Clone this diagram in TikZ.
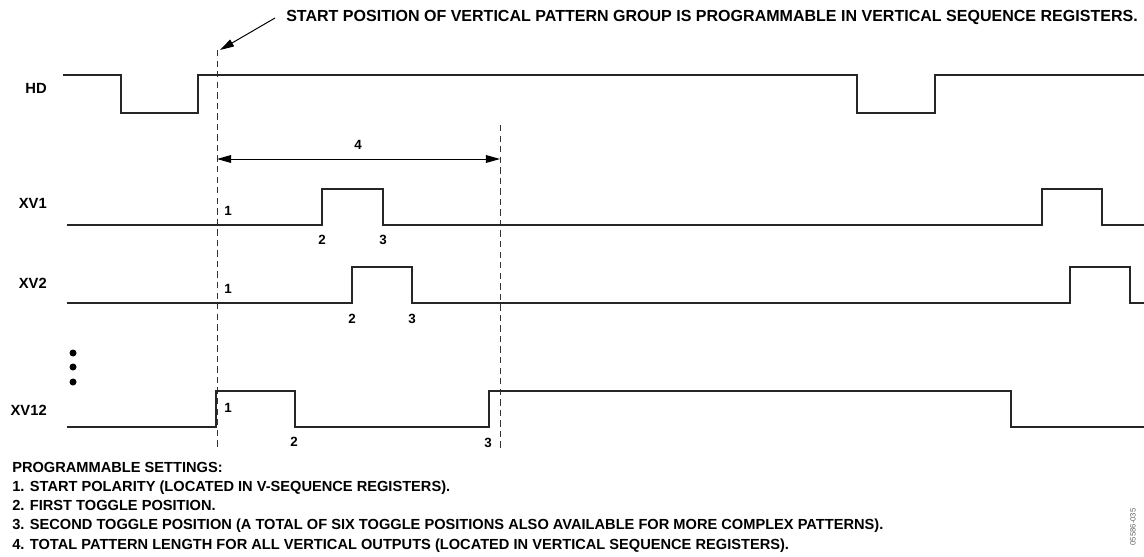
\documentclass[tikz,border=0pt]{standalone}
\usepackage{fontspec}
\setmainfont{Liberation Sans}
\usetikzlibrary{arrows.meta, positioning}

\begin{document}
\begin{tikzpicture}[
    x=0.025cm, y=-0.025cm,
    signal/.style={line width=1.4pt, draw=black!85},
    guide/.style={line width=0.6pt, dash pattern=on 4.5pt off 3pt, draw=black!80},
    arrow/.style={-{Triangle[length=10pt, width=5.5pt]}, line width=0.7pt},
    label/.style={font=\bfseries\fontsize{10.5}{12}\selectfont, inner sep=0pt, anchor=east},
    tick/.style={font=\bfseries\fontsize{9.5}{11}\selectfont, inner sep=0pt},
    note/.style={font=\bfseries\fontsize{10.4}{12}\selectfont, inner sep=0pt, anchor=base west}
]
\useasboundingbox (0,0) rectangle (1144,557);

% Start marker and pattern length guides
\draw[guide] (217,50) -- (217,450);
\draw[guide] (500,125) -- (500,450);
\node[font=\bfseries\fontsize{11.4}{13}\selectfont, inner sep=0pt, anchor=west] (startnote) at (286,17)
    {START POSITION OF VERTICAL PATTERN GROUP IS PROGRAMMABLE IN VERTICAL SEQUENCE REGISTERS.};
\coordinate (ptrA) at (275,18);
\coordinate (ptrB) at (220,50);
\draw[arrow] (ptrA) -- (ptrB);

% Pattern length
\coordinate (lenL) at (217,159);
\coordinate (lenR) at (500,159);
\draw[arrow, {Triangle[length=10pt, width=5.5pt]}-{Triangle[length=10pt, width=5.5pt]}] (lenL) -- (lenR);
\node[tick] (len) at (358,145) {4};

% HD
\node[label] (hd) at (47,88) {HD};
\draw[signal] (63,75) -| (121,113) -| (198,75) -| (857,113) -| (935,75) -- (1144,75);

% XV1
\node[label] (xv1) at (47,203) {XV1};
\draw[signal] (67,225) -| (322,189) -| (383,225) -| (1042,189) -| (1102,225) -- (1144,225);
\node[tick] (xv1a) at (228,211) {1};
\node[tick] (xv1b) at (322,240) {2};
\node[tick] (xv1c) at (383,240) {3};

% XV2
\node[label] (xv2) at (47,283) {XV2};
\draw[signal] (67,303) -| (352,267) -| (412,303) -| (1070,267) -| (1130,303) -- (1144,303);
\node[tick] (xv2a) at (228,289) {1};
\node[tick] (xv2b) at (352,319) {2};
\node[tick] (xv2c) at (412,319) {3};

% Omitted outputs
\foreach \y in {353,367,382}
    \fill (73,\y) circle (3.5);

% XV12
\node[label] (xv12) at (47,410) {XV12};
\draw[signal] (67,427) -| (216,391) -| (295,427) -| (489,391) -| (1011,427) -- (1144,427);
\node[tick] (xv12a) at (228,408) {1};
\node[tick] (xv12b) at (294,442) {2};
\node[tick] (xv12c) at (488,443) {3};

% Settings
\node[note] (set0) at (12,472) {PROGRAMMABLE SETTINGS:};
\node[note] (set1) at (12,491) {1. START POLARITY (LOCATED IN V-SEQUENCE REGISTERS).};
\node[note] (set2) at (12,510) {2. FIRST TOGGLE POSITION.};
\node[note] (set3) at (12,529) {3. SECOND TOGGLE POSITION (A TOTAL OF SIX TOGGLE POSITIONS ALSO AVAILABLE FOR MORE COMPLEX PATTERNS).};
\node[note] (set4) at (12,549) {4. TOTAL PATTERN LENGTH FOR ALL VERTICAL OUTPUTS (LOCATED IN VERTICAL SEQUENCE REGISTERS).};

\node[font=\fontsize{5.5}{6}\selectfont, text=black!60, inner sep=0pt, rotate=90] (figid) at (1133,527) {05586-035};
\end{tikzpicture}
\end{document}
